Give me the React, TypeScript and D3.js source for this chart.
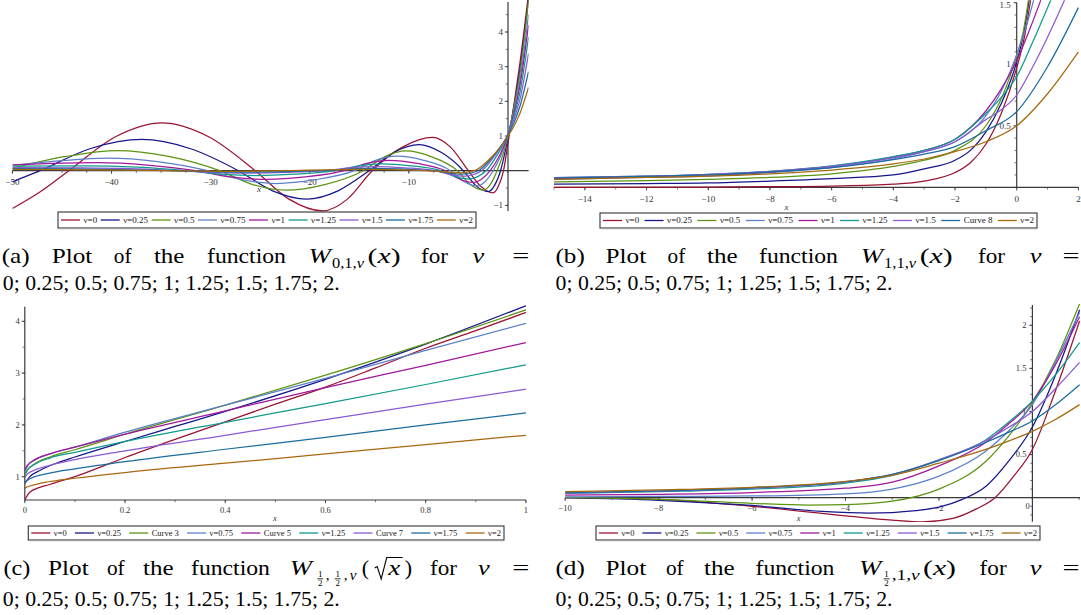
import React, { useEffect } from "react";
import * as d3 from "d3";

type Pt = [number, number];

// ---------- styling ----------
const seriesColors = ["#9a1432", "#16168c", "#5c9412", "#5b80c8", "#a0189c", "#109a8c", "#8a5ad2", "#1b6c9e", "#a8680e"];
const FONT = "'Liberation Serif', 'Times New Roman', Times, serif";

// ---------- legends ----------
const legendA = ["ν=0", "ν=0.25", "ν=0.5", "ν=0.75", "ν=1", "ν=1.25", "ν=1.5", "ν=1.75", "ν=2"];
const legendB = ["ν=0", "ν=0.25", "ν=0.5", "ν=0.75", "ν=1", "ν=1.25", "ν=1.5", "Curve 8", "ν=2"];
const legendC = ["ν=0", "ν=0.25", "Curve 3", "ν=0.75", "Curve 5", "ν=1.25", "Curve 7", "ν=1.75", "ν=2"];
const legendD = ["ν=0", "ν=0.25", "ν=0.5", "ν=0.75", "ν=1", "ν=1.25", "ν=1.5", "ν=1.75", "ν=2"];

// ---------- panel (a) : W_{0,1,nu}(x) ----------
const a_nu0: Pt[] = [[-50, -1.09], [-47.15, -0.6], [-44.3, 0], [-39.6, 0.98], [-34.9, 1.38], [-30.2, 0.98], [-25.5, 0], [-22.1, -0.82], [-18.7, -1.16], [-16.2, -0.82], [-13.7, 0], [-10.65, 0.68], [-7.6, 0.96], [-5.8, 0.68], [-4.0, 0], [-2.75, -0.45], [-1.5, -0.64], [-0.97, -0.45], [-0.45, 0], [0, 0.8], [0.6, 1.9], [1.2, 3.1], [2.07, 5.1]];
const a_nu025: Pt[] = [[-50, -0.32], [-47.2, 0], [-42.1, 0.64], [-36.95, 0.9], [-32.1, 0.64], [-27.2, 0], [-23.75, -0.58], [-20.3, -0.82], [-17.15, -0.58], [-14, 0], [-11.5, 0.53], [-9, 0.75], [-6.75, 0.53], [-4.5, 0], [-3.25, -0.43], [-2, -0.6], [-1.37, -0.43], [-0.75, 0], [0, 0.95], [0.6, 1.85], [1.2, 2.9], [2.07, 4.95]];
const a_nu05: Pt[] = [[-50, 0.07], [-44.6, 0.41], [-39.4, 0.58], [-34.25, 0.41], [-29.1, 0], [-25.75, -0.4], [-22.4, -0.56], [-18.5, -0.4], [-14.6, 0], [-12.45, 0.4], [-10.3, 0.57], [-7.7, 0.4], [-5.1, 0], [-3.8, -0.4], [-2.5, -0.56], [-1.8, -0.4], [-1.1, 0], [0, 1.0], [0.6, 1.82], [1.2, 2.8], [2.07, 4.9]];
const a_nu075: Pt[] = [[-50, 0.15], [-45.3, 0.28], [-40.4, 0.36], [-35.35, 0.26], [-30.3, 0], [-26.85, -0.26], [-23.4, -0.37], [-19.45, -0.26], [-15.5, 0], [-13.35, 0.3], [-11.2, 0.42], [-8.5, 0.3], [-5.8, 0], [-4.45, -0.31], [-3.1, -0.44], [-2.3, -0.31], [-1.5, 0], [0, 1.02], [0.6, 1.72], [1.2, 2.6], [2.07, 4.5]];
const a_nu1: Pt[] = [[-50, 0.17], [-46, 0.21], [-41.3, 0.23], [-36.4, 0.16], [-31.5, 0], [-27.95, -0.18], [-24.4, -0.25], [-20.45, -0.18], [-16.5, 0], [-14.25, 0.21], [-12, 0.3], [-9.15, 0.21], [-6.3, 0], [-4.9, -0.24], [-3.5, -0.34], [-2.65, -0.24], [-1.8, 0], [0, 1.04], [0.6, 1.65], [1.2, 2.45], [2.07, 4.2]];
const a_nu125: Pt[] = [[-50, 0.13], [-42.3, 0.14], [-37.4, 0.1], [-32.5, 0], [-29, -0.1], [-25.5, -0.14], [-21.5, -0.1], [-17.5, 0], [-15.1, 0.14], [-12.7, 0.2], [-9.75, 0.14], [-6.8, 0], [-5.35, -0.17], [-3.9, -0.24], [-3.05, -0.17], [-2.2, 0], [-1.1, 0.45], [0, 1.05], [0.6, 1.58], [1.2, 2.25], [2.07, 3.85]];
const a_nu15: Pt[] = [[-50, 0.09], [-43, 0.08], [-38.25, 0.057], [-33.5, 0], [-30, -0.05], [-26.5, -0.07], [-22.5, -0.05], [-18.5, 0], [-16, 0.085], [-13.5, 0.12], [-10.4, 0.085], [-7.3, 0], [-5.8, -0.11], [-4.3, -0.16], [-3.5, -0.11], [-2.65, 0], [-1.3, 0.45], [0, 1.05], [0.6, 1.48], [1.2, 2.05], [2.07, 3.38]];
const a_nu175: Pt[] = [[-50, 0.06], [-44, 0.05], [-34, 0], [-27, -0.04], [-19, 0], [-14, 0.07], [-7.8, 0], [-4.6, -0.1], [-3.0, 0], [-1.5, 0.42], [0, 1.03], [0.6, 1.38], [1.2, 1.85], [2.07, 2.86]];
const a_nu2: Pt[] = [[-50, 0.04], [-45, 0.03], [-34.5, 0], [-28, -0.02], [-23, 0], [-15, 0.04], [-8.3, 0], [-4.8, -0.06], [-3.4, 0], [-1.7, 0.38], [0, 1.0], [0.6, 1.28], [1.2, 1.65], [2.07, 2.4]];
const panelASeries = [a_nu0, a_nu025, a_nu05, a_nu075, a_nu1, a_nu125, a_nu15, a_nu175, a_nu2];
const aXTicks = [-50, -40, -30, -20, -10];
const aYTicks = [-1, 1, 2, 3, 4];

// ---------- panel (b) : W_{1,1,nu}(x) ----------
const b_nu0: Pt[] = [[-15, 0.0], [-10, 0.002], [-8, 0.005], [-6, 0.01], [-4, 0.025], [-3, 0.05], [-2, 0.12], [-1.5, 0.2], [-1, 0.35], [-0.5, 0.6], [0, 0.97], [0.25, 1.22], [0.45, 1.52]];
const b_nu025: Pt[] = [[-15, 0.025], [-12, 0.03], [-10, 0.035], [-8, 0.05], [-6, 0.07], [-4, 0.1], [-3, 0.15], [-2, 0.22], [-1.5, 0.3], [-1, 0.45], [-0.5, 0.68], [0, 1.02], [0.2, 1.22], [0.4, 1.52]];
const b_nu05: Pt[] = [[-15, 0.045], [-12, 0.055], [-10, 0.065], [-8, 0.08], [-6, 0.11], [-4, 0.17], [-3, 0.22], [-2, 0.3], [-1, 0.5], [-0.5, 0.72], [0, 1.07], [0.2, 1.25], [0.38, 1.52]];
const b_nu075: Pt[] = [[-15, 0.065], [-12, 0.08], [-10, 0.09], [-8, 0.12], [-6, 0.16], [-4, 0.23], [-3, 0.29], [-2, 0.37], [-1, 0.58], [-0.5, 0.78], [0, 1.08], [0.3, 1.3], [0.55, 1.52]];
const b_nu1: Pt[] = [[-15, 0.07], [-12, 0.085], [-10, 0.1], [-8, 0.125], [-6, 0.17], [-4, 0.245], [-3, 0.3], [-2, 0.39], [-1, 0.62], [-0.5, 0.8], [0, 1.03], [0.4, 1.27], [0.78, 1.52]];
const b_nu125: Pt[] = [[-15, 0.078], [-12, 0.09], [-10, 0.105], [-8, 0.13], [-6, 0.175], [-4, 0.25], [-3, 0.3], [-2, 0.39], [-1, 0.6], [-0.5, 0.73], [0, 0.9], [0.5, 1.17], [1.1, 1.52]];
const b_nu15: Pt[] = [[-15, 0.078], [-12, 0.09], [-10, 0.105], [-8, 0.13], [-6, 0.17], [-4, 0.24], [-3, 0.29], [-2, 0.37], [-1, 0.55], [-0.5, 0.63], [0, 0.75], [0.5, 0.97], [1, 1.22], [1.55, 1.52]];
const b_nu175: Pt[] = [[-15, 0.075], [-12, 0.088], [-10, 0.1], [-8, 0.125], [-6, 0.16], [-4, 0.225], [-3, 0.27], [-2, 0.33], [-1, 0.46], [0, 0.615], [1, 0.98], [2, 1.46]];
const b_nu2: Pt[] = [[-15, 0.065], [-12, 0.08], [-10, 0.09], [-8, 0.11], [-6, 0.14], [-4, 0.19], [-3, 0.23], [-2, 0.29], [-1, 0.37], [0, 0.5], [1, 0.76], [2, 1.1]];
const panelBSeries = [b_nu0, b_nu025, b_nu05, b_nu075, b_nu1, b_nu125, b_nu15, b_nu175, b_nu2];
const bXTicks = [-14, -12, -10, -8, -6, -4, -2, 0, 2];
const bYTicks = [0.5, 1, 1.5];

// ---------- panel (c) : W_{1/2,1/2,nu}(sqrt x) ----------
const c_nu0: Pt[] = [[0, 0.55], [0.01, 0.7], [0.05, 0.85], [0.1, 1.0], [0.2, 1.37], [0.3, 1.72], [0.4, 2.06], [0.5, 2.4], [0.6, 2.73], [0.7, 3.1], [0.8, 3.48], [0.9, 3.82], [1, 4.17]];
const c_nu025: Pt[] = [[0, 0.87], [0.01, 1.0], [0.03, 1.12], [0.06, 1.25], [0.1, 1.38], [0.2, 1.68], [0.3, 1.97], [0.4, 2.26], [0.6, 2.88], [0.8, 3.56], [1, 4.3]];
const c_nu05: Pt[] = [[0, 1.02], [0.005, 1.12], [0.02, 1.25], [0.05, 1.38], [0.1, 1.52], [0.2, 1.82], [0.4, 2.38], [0.6, 2.96], [0.8, 3.57], [1, 4.22]];
const c_nu075: Pt[] = [[0, 1.1], [0.005, 1.2], [0.02, 1.32], [0.05, 1.44], [0.1, 1.57], [0.2, 1.86], [0.4, 2.38], [0.6, 2.9], [0.8, 3.44], [1, 3.96]];
const c_nu1: Pt[] = [[0, 1.13], [0.005, 1.22], [0.02, 1.33], [0.05, 1.44], [0.1, 1.57], [0.2, 1.82], [0.4, 2.27], [0.6, 2.72], [0.8, 3.15], [1, 3.59]];
const c_nu125: Pt[] = [[0, 1.05], [0.005, 1.13], [0.02, 1.24], [0.05, 1.36], [0.1, 1.47], [0.2, 1.68], [0.4, 2.05], [0.6, 2.41], [0.8, 2.78], [1, 3.16]];
const c_nu15: Pt[] = [[0, 0.98], [0.005, 1.05], [0.02, 1.13], [0.05, 1.22], [0.1, 1.33], [0.2, 1.5], [0.4, 1.8], [0.6, 2.1], [0.8, 2.4], [1, 2.69]];
const c_nu175: Pt[] = [[0, 0.88], [0.005, 0.93], [0.02, 1.0], [0.05, 1.07], [0.1, 1.15], [0.2, 1.29], [0.4, 1.53], [0.6, 1.76], [0.8, 2.0], [1, 2.23]];
const c_nu2: Pt[] = [[0, 0.78], [0.01, 0.82], [0.03, 0.87], [0.06, 0.92], [0.1, 0.97], [0.2, 1.08], [0.4, 1.26], [0.6, 1.44], [0.8, 1.62], [1, 1.8]];
const panelCSeries = [c_nu0, c_nu025, c_nu05, c_nu075, c_nu1, c_nu125, c_nu15, c_nu175, c_nu2];
const cXTicks = [0, 0.2, 0.4, 0.6, 0.8, 1];
const cYTicks = [1, 2, 3, 4];

// ---------- panel (d) : W_{1/2,1,nu}(x) ----------
const d_nu0: Pt[] = [[-10, 0], [-8, -0.02], [-6, -0.1], [-4, -0.21], [-3, -0.26], [-2.35, -0.28], [-1.7, -0.24], [-1.2, -0.13], [-0.8, 0], [-0.4, 0.25], [0, 0.56], [0.5, 1.25], [1.01, 2.05]];
const d_nu025: Pt[] = [[-10, 0], [-8, -0.03], [-6, -0.09], [-4.5, -0.16], [-3.5, -0.18], [-2.5, -0.15], [-2, -0.11], [-1.5, -0.02], [-1, 0.13], [-0.5, 0.43], [0, 0.82], [0.5, 1.43], [1.01, 2.18]];
const d_nu05: Pt[] = [[-10, 0.003], [-8, -0.02], [-6, -0.065], [-4.8, -0.085], [-4, -0.08], [-3, -0.04], [-2, 0.1], [-1, 0.42], [-0.5, 0.72], [0, 1.1], [0.5, 1.6], [1.01, 2.25]];
const d_nu075: Pt[] = [[-10, 0.01], [-8, 0.015], [-6, 0.02], [-4, 0.045], [-3, 0.1], [-2, 0.25], [-1, 0.54], [-0.5, 0.78], [0, 1.08], [0.5, 1.58], [1.01, 2.15]];
const d_nu1: Pt[] = [[-10, 0.03], [-8, 0.04], [-6, 0.06], [-4, 0.11], [-3, 0.18], [-2, 0.37], [-1, 0.64], [-0.5, 0.86], [0, 1.12], [0.5, 1.55], [1.01, 2.1]];
const d_nu125: Pt[] = [[-10, 0.05], [-8, 0.07], [-6, 0.1], [-4, 0.17], [-3, 0.26], [-2, 0.44], [-1, 0.67], [-0.5, 0.88], [0, 1.12], [0.5, 1.43], [1.01, 1.8]];
const d_nu15: Pt[] = [[-10, 0.055], [-8, 0.075], [-6, 0.11], [-4, 0.18], [-3, 0.27], [-2, 0.44], [-1, 0.66], [-0.5, 0.82], [0, 1.0], [0.5, 1.27], [1.01, 1.57]];
const d_nu175: Pt[] = [[-10, 0.06], [-8, 0.08], [-6, 0.115], [-4, 0.185], [-3, 0.27], [-2, 0.43], [-1, 0.64], [-0.5, 0.76], [0, 0.89], [0.5, 1.08], [1.01, 1.31]];
const d_nu2: Pt[] = [[-10, 0.07], [-8, 0.09], [-6, 0.12], [-4, 0.19], [-3, 0.26], [-2, 0.4], [-1, 0.56], [-0.5, 0.66], [0, 0.77], [0.5, 0.91], [1.01, 1.08]];
const panelDSeries = [d_nu0, d_nu025, d_nu05, d_nu075, d_nu1, d_nu125, d_nu15, d_nu175, d_nu2];
const dXTicks = [-10, -8, -6, -4, -2];
const dYTicks = [0.5, 1, 1.5, 2];

const nuList = "0; 0.25; 0.5; 0.75; 1; 1.25; 1.5; 1.75; 2.";

// ---------- helpers ----------
function fmt(v: number) {
  const s = String(Math.round(Math.abs(v) * 1000) / 1000);
  return v < 0 ? "\u2212" + s : s;
}

let _ctx: any = null;
function textWidth(t: string, size: number) {
  if (!_ctx) _ctx = document.createElement("canvas").getContext("2d");
  _ctx.font = `${size}px "Liberation Serif"`;
  return _ctx.measureText(t).width;
}

interface PanelSpec {
  id: string;
  series: Pt[][];
  legend: string[];
  xDomain: [number, number];
  xRange: [number, number];
  yDomain: [number, number];
  yRange: [number, number];
  clip: [number, number, number, number];
  xAxisPy?: number;
  xAxisSpan: [number, number];
  yAxisSpan: [number, number];
  xMajor: number[];
  xMinor: [number, number, number];
  yMajor: number[];
  yMinor: [number, number, number];
  tickFont: number;
  xLabelBase: number;
  yLabelGap: number;
  xTitle: [number, number];
  legendBox: [number, number, number, number];
  legendFont: number;
  extra?: { t: string; x: number; y: number }[];
}

function Legend({ labels, box, font }: { labels: string[]; box: [number, number, number, number]; font: number }) {
  const [x0, y0, x1, y1] = box;
  const lineLen = 19;
  const g1 = 3.5;
  const widths = labels.map((l) => textWidth(l, font));
  const total = widths.reduce((a, w) => a + lineLen + g1 + w, 0);
  const gap = (x1 - x0 - 6 - total) / (labels.length - 1);
  const cy = (y0 + y1) / 2;
  let cx = x0 + 3;
  const items = labels.map((l, i) => {
    const sx = cx;
    cx += lineLen + g1 + widths[i] + gap;
    return (
      <g key={i}>
        <line x1={sx} x2={sx + lineLen} y1={cy} y2={cy} stroke={seriesColors[i]} strokeWidth={1.3} />
        <text x={sx + lineLen + g1} y={cy + font * 0.33} fontSize={font} fontFamily={FONT} fill="#222">
          {l}
        </text>
      </g>
    );
  });
  return (
    <g>
      <rect x={x0} y={y0} width={x1 - x0} height={y1 - y0} fill="white" stroke="#333" strokeWidth={1.1} />
      <line x1={x0 + 1} x2={x1} y1={y1 + 0.8} y2={y1 + 0.8} stroke="#aaa" strokeWidth={0.8} />
      {items}
    </g>
  );
}

function Panel({ s }: { s: PanelSpec }) {
  const x = d3.scaleLinear().domain(s.xDomain).range(s.xRange);
  const y = d3.scaleLinear().domain(s.yDomain).range(s.yRange);
  const line = d3
    .line<Pt>()
    .x((d) => x(d[0]))
    .y((d) => y(d[1]))
    .curve(d3.curveMonotoneX);
  const ax = x(0);
  const ay = s.xAxisPy !== undefined ? s.xAxisPy : y(0);
  const xMinor = d3.range(s.xMinor[0], s.xMinor[1] + 1e-9, s.xMinor[2]);
  const yMinor = d3.range(s.yMinor[0], s.yMinor[1] + 1e-9, s.yMinor[2]);
  const [cx0, cy0, cx1, cy1] = s.clip;
  const axisColor = "#3a3a3a";
  return (
    <g>
      <defs>
        <clipPath id={"clip-" + s.id}>
          <rect x={cx0} y={cy0} width={cx1 - cx0} height={cy1 - cy0} />
        </clipPath>
      </defs>
      {/* axes */}
      <line x1={s.xAxisSpan[0]} x2={s.xAxisSpan[1]} y1={ay} y2={ay} stroke={axisColor} strokeWidth={1.2} />
      <line x1={ax} x2={ax} y1={s.yAxisSpan[0]} y2={s.yAxisSpan[1]} stroke={axisColor} strokeWidth={1.2} />
      {xMinor.map((v, i) => (
        <line key={"xm" + i} x1={x(v)} x2={x(v)} y1={ay} y2={ay + 2.2} stroke={axisColor} strokeWidth={0.7} />
      ))}
      {s.xMajor.map((v, i) => (
        <g key={"xM" + i}>
          <line x1={x(v)} x2={x(v)} y1={ay} y2={ay + 3.2} stroke={axisColor} strokeWidth={0.8} />
          <text x={x(v)} y={s.xLabelBase} fontSize={s.tickFont} fontFamily={FONT} fill="#333" textAnchor="middle">
            {fmt(v)}
          </text>
        </g>
      ))}
      {yMinor.map((v, i) => (
        <line key={"ym" + i} x1={ax - 2.2} x2={ax} y1={y(v)} y2={y(v)} stroke={axisColor} strokeWidth={0.7} />
      ))}
      {s.yMajor.map((v, i) => (
        <g key={"yM" + i}>
          <line x1={ax - 3.2} x2={ax} y1={y(v)} y2={y(v)} stroke={axisColor} strokeWidth={0.8} />
          <text x={ax - s.yLabelGap} y={Math.max(y(v) + s.tickFont * 0.33, s.tickFont * 0.85)} fontSize={s.tickFont} fontFamily={FONT} fill="#333" textAnchor="end">
            {fmt(v)}
          </text>
        </g>
      ))}
      {(s.extra || []).map((e, i) => (
        <text key={"ex" + i} x={e.x} y={e.y} fontSize={s.tickFont} fontFamily={FONT} fill="#333" textAnchor="middle">
          {e.t}
        </text>
      ))}
      <text x={s.xTitle[0]} y={s.xTitle[1]} fontSize={s.tickFont} fontFamily={FONT} fontStyle="italic" fill="#333" textAnchor="middle">
        x
      </text>
      {/* curves */}
      <g clipPath={`url(#clip-${s.id})`}>
        {s.series.map((d, i) => (
          <path key={i} d={line(d) || ""} fill="none" stroke={seriesColors[i]} strokeWidth={1.25} />
        ))}
      </g>
      <Legend labels={s.legend} box={s.legendBox} font={s.legendFont} />
    </g>
  );
}

// ---------- caption pieces ----------
const CAP = 22;
function W({ x, y, w, children, italic, size }: any) {
  return (
    <text x={x} y={y} textLength={w} lengthAdjust="spacingAndGlyphs" fontSize={size || CAP} fontFamily={FONT} fontStyle={italic ? "italic" : "normal"} fill="#000">
      {children}
    </text>
  );
}

function Frac({ cx, base }: { cx: number; base: number }) {
  return (
    <g>
      <text x={cx} y={base + 1.8} fontSize={9} fontFamily={FONT} textAnchor="middle">1</text>
      <line x1={cx - 3} x2={cx + 3} y1={base + 3.8} y2={base + 3.8} stroke="#000" strokeWidth={0.8} />
      <text x={cx} y={base + 11} fontSize={9} fontFamily={FONT} textAnchor="middle">2</text>
    </g>
  );
}

function CaptionLine1({ base, label, pos, math }: any) {
  return (
    <g>
      <W x={pos[0]} y={base} w={label === "(a)" ? 28.1 : label === "(c)" ? 26.9 : 29.3}>{label}</W>
      <W x={pos[1]} y={base} w={40.7}>Plot</W>
      <W x={pos[2]} y={base} w={17.7}>of</W>
      <W x={pos[3]} y={base} w={30.6}>the</W>
      <W x={pos[4]} y={base} w={78.9}>function</W>
      {math(pos[5], base)}
      <W x={pos[6]} y={base} w={27}>for</W>
      <W x={pos[7]} y={base} w={11.7} italic>ν</W>
      <W x={pos[8]} y={base} w={17.1}>=</W>
    </g>
  );
}

function mathA(sub: string) {
  return (mx: number, base: number) => (
    <g>
      <W x={mx} y={base} w={22.4} italic>W</W>
      <text x={mx + 23.4} y={base + 4.5} fontSize={15} fontFamily={FONT} textLength={32} lengthAdjust="spacingAndGlyphs">
        {sub}
        <tspan fontStyle="italic">ν</tspan>
      </text>
      <text x={mx + 59} y={base} fontSize={CAP} fontFamily={FONT} textLength={33} lengthAdjust="spacingAndGlyphs">
        (<tspan fontStyle="italic">x</tspan>)
      </text>
    </g>
  );
}

function mathC(mx: number, base: number) {
  const r0 = mx + 85;
  return (
    <g>
      <W x={mx} y={base} w={22.3} italic>W</W>
      <Frac cx={mx + 30.5} base={base} />
      <text x={mx + 36} y={base + 5} fontSize={15} fontFamily={FONT}>,</text>
      <Frac cx={mx + 48} base={base} />
      <text x={mx + 54} y={base + 5} fontSize={15} fontFamily={FONT}>,</text>
      <text x={mx + 60} y={base + 5} fontSize={15} fontFamily={FONT} fontStyle="italic">ν</text>
      <text x={mx + 72} y={base} fontSize={CAP} fontFamily={FONT}>(</text>
      <path d={`M${r0},${base - 7} L${r0 + 2.5},${base - 8.5} L${r0 + 6.5},${base + 4} L${r0 + 12},${base - 17.5} H${r0 + 28}`} fill="none" stroke="#000" strokeWidth={1.1} />
      <text x={r0 + 13.5} y={base} fontSize={CAP} fontFamily={FONT} fontStyle="italic" textLength={12} lengthAdjust="spacingAndGlyphs">x</text>
      <text x={mx + 115} y={base} fontSize={CAP} fontFamily={FONT}>)</text>
    </g>
  );
}

function mathD(mx: number, base: number) {
  return (
    <g>
      <W x={mx} y={base} w={22.4} italic>W</W>
      <Frac cx={mx + 27.6} base={base} />
      <text x={mx + 32.7} y={base + 5} fontSize={15} fontFamily={FONT} textLength={28} lengthAdjust="spacingAndGlyphs">
        ,1,<tspan fontStyle="italic">ν</tspan>
      </text>
      <text x={mx + 64} y={base} fontSize={CAP} fontFamily={FONT} textLength={33} lengthAdjust="spacingAndGlyphs">
        (<tspan fontStyle="italic">x</tspan>)
      </text>
    </g>
  );
}

const specA: PanelSpec = {
  id: "a",
  series: panelASeries,
  legend: legendA,
  xDomain: [-50, 0],
  xRange: [12.4, 508],
  yDomain: [0, 4],
  yRange: [170.7, 32],
  clip: [12.4, 0, 528.6, 214],
  xAxisSpan: [12.4, 528.6],
  yAxisSpan: [2, 211],
  xMajor: aXTicks,
  xMinor: [-50, 2, 2.5],
  yMajor: aYTicks,
  yMinor: [-1, 4.5, 0.5],
  tickFont: 9,
  xLabelBase: 185,
  yLabelGap: 5,
  xTitle: [259, 192],
  legendBox: [58, 212, 476, 228],
  legendFont: 9,
};

const specB: PanelSpec = {
  id: "b",
  series: panelBSeries,
  legend: legendB,
  xDomain: [-15, 2],
  xRange: [554, 1078.4],
  yDomain: [0, 1.5],
  yRange: [187.3, 2.7],
  clip: [554, 0, 1079, 189],
  xAxisSpan: [554, 1078.4],
  yAxisSpan: [2.7, 187.3],
  xMajor: bXTicks,
  xMinor: [-15, 2, 1],
  yMajor: bYTicks,
  yMinor: [0, 1.5, 0.1],
  tickFont: 9,
  xLabelBase: 201.5,
  yLabelGap: 6,
  xTitle: [786.6, 209.5],
  legendBox: [600, 213, 1037, 228],
  legendFont: 9,
};

const specC: PanelSpec = {
  id: "c",
  series: panelCSeries,
  legend: legendC,
  xDomain: [0, 1],
  xRange: [24.8, 525.9],
  yDomain: [1, 4],
  yRange: [476.7, 321.3],
  clip: [24.8, 305, 527, 500.5],
  xAxisPy: 500,
  xAxisSpan: [24.8, 525.9],
  yAxisSpan: [306.7, 500],
  xMajor: cXTicks,
  xMinor: [0, 1, 0.1],
  yMajor: cYTicks,
  yMinor: [1, 4, 0.5],
  tickFont: 8.5,
  xLabelBase: 513,
  yLabelGap: 5,
  xTitle: [274.8, 520.5],
  legendBox: [28.3, 526, 504, 540],
  legendFont: 8.5,
};

const specD: PanelSpec = {
  id: "d",
  series: panelDSeries,
  legend: legendD,
  xDomain: [-10, 0],
  xRange: [565.2, 1032.4],
  yDomain: [0, 2],
  yRange: [497.7, 325.3],
  clip: [565, 304, 1081, 522],
  xAxisSpan: [565.2, 1080],
  yAxisSpan: [305, 521.7],
  xMajor: dXTicks,
  xMinor: [-10, 1, 1],
  yMajor: dYTicks,
  yMinor: [-0.2, 2.2, 0.1],
  tickFont: 8.5,
  xLabelBase: 511,
  yLabelGap: 6,
  xTitle: [798.6, 520.5],
  legendBox: [596, 526, 1040, 540],
  legendFont: 8.5,
  extra: [{ t: "0", x: 1027.5, y: 509 }],
};

export default function App() {
  useEffect(() => {
    document.body.style.margin = "0";
  }, []);
  return (
    <svg width={1081} height={615} viewBox="0 0 1081 615" style={{ position: "absolute", left: 0, top: 0, background: "#fff" }}>
      <rect x={0} y={0} width={1081} height={615} fill="#fff" />
      <Panel s={specA} />
      <Panel s={specB} />
      <Panel s={specC} />
      <Panel s={specD} />

      {/* captions */}
      <CaptionLine1 base={263} label="(a)" pos={[1.7, 51.7, 113.8, 153.9, 207, 308.6, 421, 472.4, 512.3]} math={mathA("0,1,")} />
      <W x={2.8} y={290} w={337}>{nuList}</W>

      <CaptionLine1 base={263} label="(b)" pos={[555.5, 605.5, 667.6, 707, 759, 860.7, 978, 1029.7, 1062.6]} math={mathA("1,1,")} />
      <W x={555.5} y={290} w={337}>{nuList}</W>

      <CaptionLine1 base={575} label="(c)" pos={[3.4, 48, 107, 143, 191, 289.7, 430, 478, 512.3]} math={mathC} />
      <W x={2.8} y={606} w={337}>{nuList}</W>

      <CaptionLine1 base={575} label="(d)" pos={[555.5, 605.5, 666, 704, 755.5, 859, 979.6, 1029.7, 1062.6]} math={mathD} />
      <W x={555.5} y={606} w={337}>{nuList}</W>
    </svg>
  );
}
